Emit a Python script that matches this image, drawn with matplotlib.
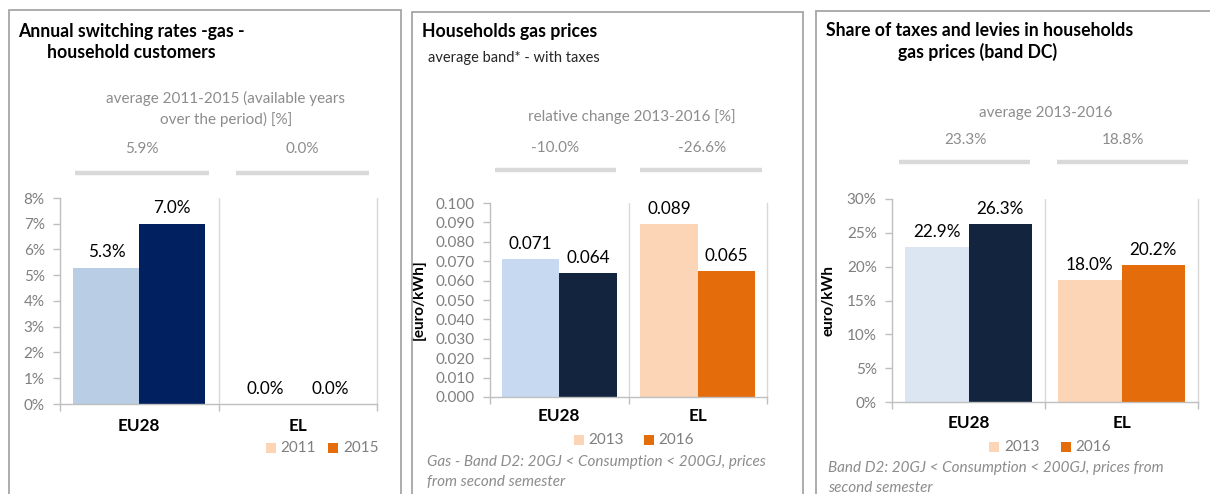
import matplotlib
matplotlib.use("Agg")
import matplotlib.pyplot as plt
from matplotlib.patches import Rectangle
from matplotlib.lines import Line2D
import numpy as np

plt.rcParams['font.family'] = ['Lato', 'DejaVu Sans']

W, H = 1210, 494

# ---- data ----
categories = ["EU28", "EL"]

switch_years = ["2011", "2015"]
switch_2011 = [5.3, 0.0]
switch_2015 = [7.0, 0.0]
switch_avg = ["5.9%", "0.0%"]

price_years = ["2013", "2016"]
price_2013 = [0.071, 0.089]
price_2016 = [0.064, 0.065]
price_change = ["-10.0%", "-26.6%"]

tax_years = ["2013", "2016"]
tax_2013 = [22.9, 18.0]
tax_2016 = [26.3, 20.2]
tax_avg = ["23.3%", "18.8%"]

# ---- styles ----
GRID = '#d9d9d9'
SPINE = '#bfbfbf'
TICKC = '#7f7f7f'
HEADC = '#8c8c8c'
PEACH = '#fbd5b5'
ORANGE = '#e46c0a'
TITLE_FS = 12.7

fig = plt.figure(figsize=(W / 100, H / 100), dpi=100)
fig.patch.set_facecolor('white')

def fx(px):
    return px / W

def fy(py):
    return 1 - py / H

def panel_box(x0, y0, x1, y1):
    fig.add_artist(Rectangle((fx(x0), fy(y1)), fx(x1) - fx(x0), fy(y0) - fy(y1),
                             transform=fig.transFigure, fill=False,
                             edgecolor='#a6a6a6', lw=1.3, clip_on=False))

def hline(x0, x1, y):
    fig.add_artist(Line2D([fx(x0), fx(x1)], [fy(y), fy(y)], transform=fig.transFigure,
                          color=GRID, lw=3.2, solid_capstyle='butt'))

def make_axes(l, r, t, b):
    ax = fig.add_axes([fx(l), fy(b), fx(r) - fx(l), fy(t) - fy(b)])
    return ax

def style_axes(ax, ymax, step, fmt, xpad):
    ax.set_xlim(-0.5, 1.5)
    ax.set_ylim(0, ymax)
    ax.set_yticks(np.arange(0, ymax + step / 2, step))
    ax.yaxis.set_major_formatter(matplotlib.ticker.FuncFormatter(lambda v, p: fmt(v)))
    for s in ['top', 'right']:
        ax.spines[s].set_visible(False)
    for s in ['left', 'bottom']:
        ax.spines[s].set_color(SPINE)
        ax.spines[s].set_linewidth(1.0)
    ax.axvline(0.5, color=GRID, lw=1.0, zorder=0)
    ax.axvline(1.5, color=GRID, lw=1.0, zorder=0, clip_on=False)
    ax.tick_params(axis='y', colors=SPINE, labelcolor=TICKC, labelsize=11,
                   length=5, width=1.0, pad=6)
    ax.set_xticks([0, 1])
    ax.set_xticklabels(categories, fontsize=12.3, fontweight='bold')
    ax.set_xticks([-0.5, 0.5, 1.5], minor=True)
    ax.tick_params(axis='x', which='major', length=0, pad=xpad)
    ax.tick_params(axis='x', which='minor', length=5, color=SPINE, width=1.0)

def bars(ax, v1, v2, c1, c2, lab):
    x = np.arange(len(categories))
    w = 0.415
    b1 = ax.bar(x - w / 2, v1, w, color=c1, zorder=2)
    b2 = ax.bar(x + w / 2, v2, w, color=c2, zorder=2)
    for bb, vals in ((b1, v1), (b2, v2)):
        for r, v in zip(bb, vals):
            ax.annotate(lab(v), (r.get_x() + r.get_width() / 2, v), xytext=(0, 11),
                        textcoords='offset points', ha='center', va='center',
                        fontsize=12.3, color='black', clip_on=False)

def legend(y, items):
    for (xsq, xt, col, txt) in items:
        fig.add_artist(Rectangle((fx(xsq - 5), fy(y + 5)), 10 / W, 10 / H,
                                 transform=fig.transFigure, color=col, lw=0))
        fig.text(fx(xt), fy(y), txt, ha='left', va='center', fontsize=11, color=TICKC)

# ================= Panel 1 =================
panel_box(9, 10, 401, 520)
fig.text(fx(18), fy(31), "Annual switching rates -gas -", fontsize=TITLE_FS, fontweight='bold',
         ha='left', va='center')
fig.text(fx(47), fy(53), "household customers", fontsize=TITLE_FS, fontweight='bold',
         ha='left', va='center')
fig.text(fx(226), fy(98), "average 2011-2015 (available years", fontsize=11, color=HEADC,
         ha='center', va='center')
fig.text(fx(226), fy(119), "over the period) [%]", fontsize=11, color=HEADC,
         ha='center', va='center')
fig.text(fx(142), fy(149), switch_avg[0], fontsize=11, color=HEADC, ha='center', va='center')
fig.text(fx(302), fy(149), switch_avg[1], fontsize=11, color=HEADC, ha='center', va='center')
hline(75, 209, 173)
hline(236, 369, 173)

ax1 = make_axes(60, 377, 198, 404)
style_axes(ax1, 8, 1, lambda v: f"{v:.0f}%", 10)
bars(ax1, switch_2011, switch_2015, ['#b9cde5', PEACH], ['#002060', ORANGE],
     lambda v: f"{v:.1f}%")
legend(448, [(271, 280, PEACH, switch_years[0]), (333, 343, ORANGE, switch_years[1])])

# ================= Panel 2 =================
panel_box(412, 12, 803, 520)
fig.text(fx(422), fy(32), "Households gas prices", fontsize=TITLE_FS, fontweight='bold',
         ha='left', va='center')
fig.text(fx(428), fy(58), "average band* - with taxes", fontsize=10.5, color='#262626',
         ha='left', va='center')
fig.text(fx(632), fy(117), "relative change 2013-2016 [%]", fontsize=11, color=HEADC,
         ha='center', va='center')
fig.text(fx(555), fy(148), price_change[0], fontsize=11, color=HEADC, ha='center', va='center')
fig.text(fx(702), fy(148), price_change[1], fontsize=11, color=HEADC, ha='center', va='center')
hline(495, 616, 170)
hline(640, 762, 170)

ax2 = make_axes(490, 767, 203, 397)
style_axes(ax2, 0.1, 0.01, lambda v: f"{v:.3f}", 8)
bars(ax2, price_2013, price_2016, ['#c6d9f1', PEACH], ['#13243f', ORANGE],
     lambda v: f"{v:.3f}")
ax2.set_ylabel("[euro/kWh]", fontsize=11, fontweight='bold')
ax2.yaxis.set_label_coords((426 - 490) / 277, 0.5)
legend(440, [(579, 588, PEACH, price_years[0]), (649, 658, ORANGE, price_years[1])])
fig.text(fx(427), fy(462), "Gas - Band D2: 20GJ < Consumption < 200GJ, prices",
         fontsize=11, style='italic', color=HEADC, ha='left', va='center')
fig.text(fx(427), fy(482), "from second semester",
         fontsize=11, style='italic', color=HEADC, ha='left', va='center')

# ================= Panel 3 =================
panel_box(816, 11, 1220, 520)
fig.text(fx(826), fy(30), "Share of taxes and levies in households", fontsize=TITLE_FS,
         fontweight='bold', ha='left', va='center')
fig.text(fx(898), fy(52), "gas prices (band DC)", fontsize=TITLE_FS, fontweight='bold',
         ha='left', va='center')
fig.text(fx(1046), fy(113), "average 2013-2016", fontsize=11, color=HEADC,
         ha='center', va='center')
fig.text(fx(965), fy(140), tax_avg[0], fontsize=11, color=HEADC, ha='center', va='center')
fig.text(fx(1123), fy(140), tax_avg[1], fontsize=11, color=HEADC, ha='center', va='center')
hline(899, 1030, 162)
hline(1057, 1188, 162)

ax3 = make_axes(892, 1198, 199, 402)
style_axes(ax3, 30, 5, lambda v: f"{v:.0f}%", 9)
bars(ax3, tax_2013, tax_2016, ['#dce6f2', PEACH], ['#13243f', ORANGE],
     lambda v: f"{v:.1f}%")
ax3.set_ylabel("euro/kWh", fontsize=11, fontweight='bold')
ax3.yaxis.set_label_coords((835 - 892) / 306, 0.5)
legend(447, [(994, 1004, PEACH, tax_years[0]), (1066, 1075, ORANGE, tax_years[1])])
fig.text(fx(828), fy(468), "Band D2: 20GJ < Consumption < 200GJ, prices from",
         fontsize=11, style='italic', color=HEADC, ha='left', va='center')
fig.text(fx(828), fy(488), "second semester",
         fontsize=11, style='italic', color=HEADC, ha='left', va='center')

fig.savefig("out.png", dpi=100, facecolor='white')
